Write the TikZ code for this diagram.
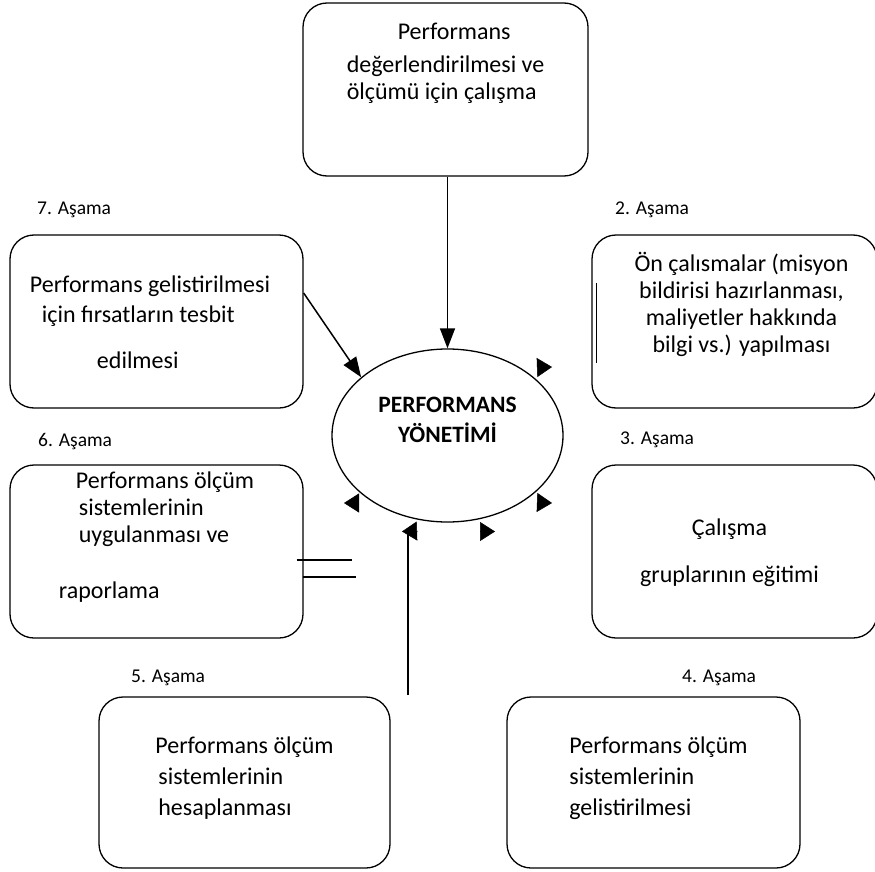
\documentclass[tikz,border=0pt]{standalone}
\usepackage{fontspec}
\setmainfont{Carlito}
\usepackage{tikz}
\usetikzlibrary{arrows.meta,positioning,shapes.geometric,calc}

\begin{document}
\begin{tikzpicture}[
  x=1pt, y=-1pt,
  stagebox/.style={rectangle, rounded corners=24pt, draw, line width=1.3pt,
             inner sep=0pt, text depth=0pt},
  stagelabel/.style={anchor=base west, inner sep=0pt, font=\fontsize{19.5}{24}\selectfont},
  hub/.style={ellipse, draw, line width=1.3pt, minimum width=231pt, minimum height=173pt,
             inner sep=0pt, align=center, font=\fontsize{23.5}{30}\selectfont\bfseries},
  arr/.style={-{Triangle[length=20pt,width=15pt]}, line width=1.5pt},
  link/.style={line width=1.5pt},
  stub/.style={-{Triangle[length=15pt,width=19pt]}, line width=0.5pt},
]
\useasboundingbox (0,0) rectangle (875,872);
% centre
\node[hub, text height=14pt, text depth=0pt] (pm) at (447.5,435.5) {PERFORMANS\\YÖNETİMİ};
% stages
\node[stagebox, minimum width=285pt, minimum height=173pt, align=left, text height=21pt,
      font=\fontsize{24}{28}\selectfont] (s1) at (445.5,89.5)
  {\hspace*{51pt}Performans\\[4pt] değerlendirilmesi ve\\ ölçümü için çalışma};
\node[stagebox, minimum width=285pt, minimum height=173pt, align=center, text height=62pt,
      font=\fontsize{24}{27}\selectfont] (s2) at (734.5,321.5)
  {\hspace*{14pt}Ön çalısmalar (misyon\\ \hspace*{14pt}bildirisi hazırlanması,\\
   \hspace*{14pt}maliyetler hakkında\\ \hspace*{14pt}bilgi vs.) yapılması};
\node[stagebox, minimum width=285pt, minimum height=173pt, align=center, text height=62pt,
      font=\fontsize{24}{47}\selectfont] (s3) at (734.5,551.5)
  {Çalışma\hspace*{10pt}\\ gruplarının eğitimi\hspace*{10pt}};
\node[stagebox, minimum width=293pt, minimum height=171pt, align=left, text height=66pt,
      font=\fontsize{24}{31}\selectfont] (s4) at (653.5,782.5)
  {\hspace*{10pt}Performans ölçüm\\ \hspace*{10pt}sistemlerinin\\ \hspace*{10pt}gelistirilmesi};
\node[stagebox, minimum width=291pt, minimum height=171pt, align=left, text height=66pt,
      font=\fontsize{24}{31}\selectfont] (s5) at (244.5,782.5)
  {Performans ölçüm\\ \hspace*{3pt}sistemlerinin\\ \hspace*{3pt}hesaplanması};
\node[stagebox, minimum width=293pt, minimum height=173pt, align=left, text height=94pt,
      font=\fontsize{24}{27}\selectfont] (s6) at (156.5,551.5)
  {\hspace*{17pt}Performans ölçüm\\ \hspace*{20pt}sistemlerinin\\ \hspace*{20pt}uygulanması ve\\[29pt] raporlama};
\node[stagebox, minimum width=293pt, minimum height=173pt, align=left, text height=94pt,
      font=\fontsize{24}{30}\selectfont] (s7) at (156.5,321.5)
  {Performans gelistirilmesi\hspace*{13pt}\\ \hspace*{12pt}için fırsatların tesbit\\[16pt] \hspace*{67pt}edilmesi};
% stage labels
\node[stagelabel] (l2) at (615,214.5) {2. Aşama};
\node[stagelabel] (l3) at (620,444.5) {3. Aşama};
\node[stagelabel] (l4) at (682,682.5) {4. Aşama};
\node[stagelabel] (l5) at (131,682.5) {5. Aşama};
\node[stagelabel] (l6) at (38,446.5) {6. Aşama};
\node[stagelabel] (l7) at (37,214.5) {7. Aşama};
% connectors
\coordinate (s7o) at ([yshift=28.5pt]s7.east);
\coordinate (v5) at (408,695);
\draw[arr] (pm.north |- s1.south) -- (pm.north);
\draw[arr] (s7o) -- (pm.146);
\draw[link] (v5) -- ++(0,-163);
\draw[link] ([xshift=-7pt,yshift=-8.5pt]s6.east) -- ++(55,0);
\draw[link] ([xshift=-1pt,yshift=-25.5pt]s6.east) -- ++(53,0);
\draw[link] ([xshift=5pt,yshift=38.5pt]s2.west) -- ([xshift=5pt,yshift=-41.5pt]s2.west);
% loose heads round the ellipse
\foreach \a/\b/\c/\d in {537/367.5/552/367, 538/502.5/552/503, 481/531.5/495/531.5,
                         418/531/402/531.5, 357.5/503/344/503}
  \draw[stub] (\a,\b) -- (\c,\d);
\end{tikzpicture}
\end{document}
